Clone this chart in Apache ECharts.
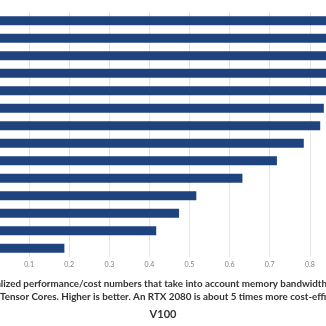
<!DOCTYPE html>
<html>
<head>
<meta charset="utf-8">
<script src="https://cdn.jsdelivr.net/npm/echarts@6/dist/echarts.min.js"></script>
<style>
html,body{margin:0;padding:0;background:#fff;}
#c{width:326px;height:326px;}
</style>
</head>
<body>
<div id="c"></div>
<script>
const categories = ["RTX 2080","RTX 2070","RTX 2060","GTX 1060 (6GB)","RTX 2080 Ti","GTX 1070","GTX 1070 Ti","GTX 1080","GTX 1080 Ti","Titan RTX","Titan Xp","Titan V","Tesla V100 (16GB)","Tesla V100 (32GB)"];
const values = [1.0, 0.97, 0.93, 0.90, 0.87, 0.835, 0.826, 0.785, 0.718, 0.632, 0.517, 0.474, 0.417, 0.188];
const tickValues = [0.1,0.2,0.3,0.4,0.5,0.6,0.7,0.8];
const captionLines = [
  "Normalized performance/cost numbers that take into account memory bandwidth and",
  "Tensor Cores. Higher is better. An RTX 2080 is about 5 times more cost-efficient than a Tesla",
  "V100"
];

const chart = echarts.init(document.getElementById('c'), null, {renderer:'canvas'});
chart.setOption({
  animation:false,
  backgroundColor:'#fff',
  grid:{left:-11, right:-64, top:12, bottom:69, containLabel:false, outerBoundsMode:'none'},
  xAxis:{
    type:'value', min:0, max:1, interval:0.1,
    axisLine:{show:false}, axisTick:{show:false},
    splitLine:{show:true, lineStyle:{color:'#e6e6e6', width:1}},
    axisLabel:{fontSize:7, color:'#808080', margin:4, fontFamily:'Lato',
      formatter:v=>{const r=Math.round(v*10)/10; return tickValues.includes(r)? String(r):'';}}
  },
  yAxis:{
    type:'category', data:categories, inverse:true,
    axisLine:{show:false}, axisTick:{show:false}, axisLabel:{show:false}
  },
  series:[{
    type:'bar', data:values, barWidth:9, clip:false,
    itemStyle:{color:'#1e437f'}
  }],
  graphic:[
    {type:'text', left:-29, top:279, style:{text:captionLines[0], fill:'#333', font:'bold 9.8px Lato'}},
    {type:'text', left:0, top:292, style:{text:captionLines[1], fill:'#333', font:'bold 9.8px Lato'}},
    {type:'text', x:163, y:309, style:{text:captionLines[2], fill:'#333', font:'bold 11px Lato', textAlign:'center'}}
  ]
});
</script>
</body>
</html>
